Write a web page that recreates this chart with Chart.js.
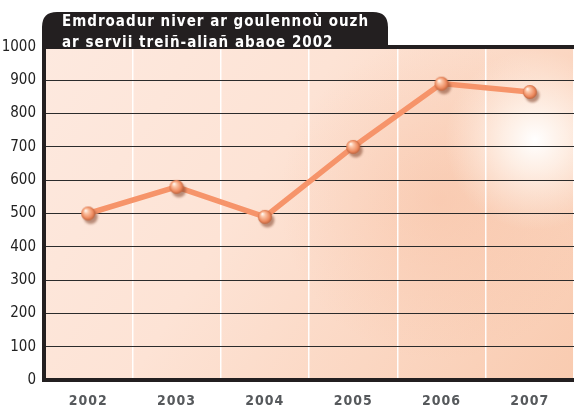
<!DOCTYPE html>
<html>
<head>
<meta charset="utf-8">
<script src="https://cdn.jsdelivr.net/npm/chart.js@4/dist/chart.umd.min.js"></script>
<style>
    html, body { margin: 0; padding: 0; background: #ffffff; }
    #wrap { width: 574px; height: 406px; position: relative; }
</style>
</head>
<body>
<div id="wrap"><canvas id="requestChart" width="574" height="406"></canvas></div>
<script>
const years = ["2002", "2003", "2004", "2005", "2006", "2007"];
const requests = [500, 580, 490, 700, 890, 865];
const yMin = 0;
const yMax = 1000;
const yStep = 100;
const titleLines = [
    "Emdroadur niver ar goulennoù ouzh",
    "ar servii treiñ-aliañ abaoe 2002"
];

const DARK = "#231f20";
const LINE_COLOR = "#f6946a";

// sphere sprite used as point style
function makeSphere() {
    const c = document.createElement("canvas");
    c.width = 28;
    c.height = 28;
    const g = c.getContext("2d");
    g.save();
    g.filter = "blur(1px)";
    g.fillStyle = "rgba(130,65,40,0.55)";
    g.beginPath();
    g.arc(16.5, 17.5, 7, 0, Math.PI * 2);
    g.fill();
    g.restore();
    const grad = g.createRadialGradient(11.5, 11, 0.5, 14, 14, 7.5);
    grad.addColorStop(0, "#fff4ec");
    grad.addColorStop(0.25, "#fcc6a8");
    grad.addColorStop(0.7, "#ee8c61");
    grad.addColorStop(1, "#b65a35");
    g.fillStyle = grad;
    g.beginPath();
    g.arc(14, 14, 7, 0, Math.PI * 2);
    g.fill();
    return c;
}

const backdrop = {
    id: "backdrop",
    beforeDraw(chart) {
        const { ctx, chartArea: a } = chart;
        ctx.save();
        const lin = ctx.createLinearGradient(a.left, a.top, a.right, a.bottom);
        lin.addColorStop(0, "#fde9df");
        lin.addColorStop(0.4, "#fde3d5");
        lin.addColorStop(1, "#f9cbb0");
        ctx.fillStyle = lin;
        ctx.fillRect(a.left, a.top, a.right - a.left, a.bottom - a.top);

        const warm = ctx.createRadialGradient(440, 200, 0, 440, 200, 160);
        warm.addColorStop(0, "rgba(246,182,148,0.38)");
        warm.addColorStop(1, "rgba(246,182,148,0)");
        ctx.fillStyle = warm;
        ctx.fillRect(a.left, a.top, a.right - a.left, a.bottom - a.top);

        const glow = ctx.createRadialGradient(535, 140, 0, 535, 140, 90);
        glow.addColorStop(0, "rgba(255,255,255,1)");
        glow.addColorStop(0.35, "rgba(255,248,242,0.75)");
        glow.addColorStop(1, "rgba(255,240,230,0)");
        ctx.fillStyle = glow;
        ctx.fillRect(a.left, a.top, a.right - a.left, a.bottom - a.top);
        ctx.restore();

        // letter spacing on the year labels
        const xs = chart.scales.x;
        if (xs && !xs._spaced) {
            const orig = xs.drawLabels;
            xs.drawLabels = function (area) {
                this.ctx.save();
                this.ctx.letterSpacing = "1px";
                orig.call(this, area);
                this.ctx.restore();
            };
            xs._spaced = true;
        }
    },
    afterDraw(chart) {
        const { ctx, chartArea: a } = chart;
        ctx.save();
        ctx.fillStyle = DARK;
        ctx.fillRect(a.left - 2, a.top - 2, chart.width - a.left + 2, 4);
        const l = a.left - 2, r = 388, t = 12, b = a.top + 1, rad = 15;
        ctx.beginPath();
        ctx.moveTo(l, b);
        ctx.lineTo(l, t + rad);
        ctx.quadraticCurveTo(l, t, l + rad, t);
        ctx.lineTo(r - rad, t);
        ctx.quadraticCurveTo(r, t, r, t + rad);
        ctx.lineTo(r, b);
        ctx.closePath();
        ctx.fill();

        ctx.fillStyle = "#ffffff";
        ctx.font = "bold 15px 'DejaVu Sans Condensed'";
        ctx.letterSpacing = "1px";
        ctx.textBaseline = "alphabetic";
        ctx.fillText(titleLines[0], 62, 26);
        ctx.fillText(titleLines[1], 62, 47);
        ctx.restore();
    }
};

new Chart(document.getElementById("requestChart"), {
    type: "line",
    data: {
        labels: years,
        datasets: [{
            data: requests,
            borderColor: LINE_COLOR,
            borderWidth: 5.5,
            tension: 0,
            pointStyle: makeSphere(),
            pointRadius: 7,
            pointHoverRadius: 7
        }]
    },
    options: {
        responsive: false,
        animation: false,
        events: [],
        layout: { autoPadding: false, padding: { top: 47, left: 0, right: 0, bottom: 0 } },
        plugins: {
            legend: { display: false },
            tooltip: { enabled: false }
        },
        scales: {
            x: {
                offset: true,
                grid: {
                    offset: true,
                    color: "rgba(255,255,255,0.95)",
                    lineWidth: 1.5,
                    drawTicks: false
                },
                border: { display: true, color: DARK, width: 4 },
                ticks: {
                    color: "#56595c",
                    padding: 13,
                    font: { family: "'DejaVu Sans Condensed'", size: 14, weight: "bold" }
                },
                afterFit(scale) { scale.height = 26; }
            },
            y: {
                min: yMin,
                max: yMax,
                grid: {
                    color: "#2b2b2b",
                    lineWidth: 1,
                    drawTicks: false
                },
                border: { display: true, color: DARK, width: 4 },
                ticks: {
                    stepSize: yStep,
                    color: "#222222",
                    padding: 8,
                    font: { family: "'DejaVu Sans Condensed'", size: 15 },
                    callback: value => String(value)
                },
                afterFit(scale) { scale.width = 44; }
            }
        }
    },
    plugins: [backdrop]
});
</script>
</body>
</html>
